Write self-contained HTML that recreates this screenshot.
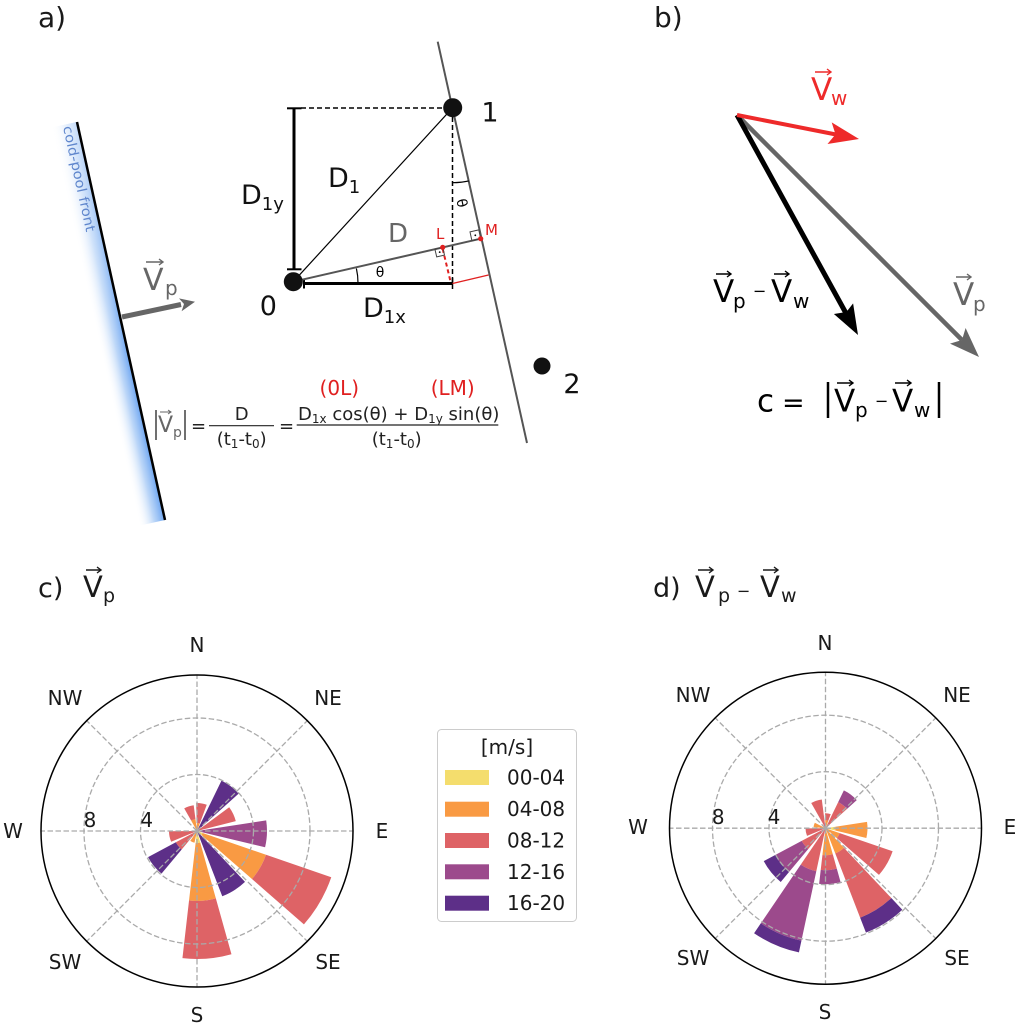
<!DOCTYPE html>
<html><head><meta charset="utf-8"><style>
html,body{margin:0;padding:0;background:#fff;}
svg{display:block;}
text{font-family:"DejaVu Sans","Liberation Sans",sans-serif;}
</style></head><body>
<svg id="fig" width="1017" height="1024" viewBox="0 0 1017 1024" xmlns="http://www.w3.org/2000/svg">
<defs>
<linearGradient id="bandPerp" gradientUnits="userSpaceOnUse" x1="77" y1="122" x2="51.6" y2="127.6">
<stop offset="0" stop-color="#6ea6f1" stop-opacity="1"/>
<stop offset="0.4" stop-color="#a9cbf6" stop-opacity="0.8"/>
<stop offset="1" stop-color="#ffffff" stop-opacity="0"/>
</linearGradient>
<linearGradient id="bandTop" gradientUnits="userSpaceOnUse" x1="0" y1="122" x2="0" y2="360">
<stop offset="0" stop-color="#ffffff" stop-opacity="0.6"/>
<stop offset="1" stop-color="#ffffff" stop-opacity="0"/>
</linearGradient>
</defs>

<!-- ===== Panel a ===== -->
<text x="38" y="27" font-size="28" fill="#1a1a1a">a)</text>
<polygon points="77,122 165,520 139.6,525.6 51.6,127.6" fill="url(#bandPerp)"/>
<polygon points="77,122 165,520 139.6,525.6 51.6,127.6" fill="url(#bandTop)"/>
<line x1="77" y1="122" x2="165" y2="520" stroke="#000" stroke-width="2.5"/>
<text transform="translate(63,127) rotate(77.53)" x="0" y="0" font-size="13.5" fill="#5f86cc" textLength="108" lengthAdjust="spacingAndGlyphs">cold-pool front</text>

<!-- Vp arrow -->
<line x1="122" y1="317" x2="181" y2="304.5" stroke="#666" stroke-width="5"/>
<polygon points="195,301.7 181.6,311.2 184,304 179,298.4" fill="#666"/>
<text x="143" y="290" font-size="30" fill="#666">V</text>
<path d="M146 262 H163 M159 259 L163 262 L159 265" stroke="#666" stroke-width="1.4" fill="none"/>
<text x="165" y="295" font-size="20" fill="#666">p</text>

<!-- right front line -->
<line x1="437.7" y1="41.7" x2="527" y2="443" stroke="#555" stroke-width="2"/>

<!-- dashed construction lines -->
<line x1="301" y1="108" x2="452" y2="108" stroke="#000" stroke-width="1.5" stroke-dasharray="5 3"/>
<line x1="452.5" y1="117" x2="452.5" y2="283" stroke="#000" stroke-width="1.5" stroke-dasharray="5 3"/>

<!-- D1y bar -->
<line x1="294" y1="108" x2="294" y2="269" stroke="#000" stroke-width="3"/>
<line x1="287" y1="108.3" x2="301.5" y2="108.3" stroke="#000" stroke-width="2"/>
<line x1="287" y1="269.3" x2="301.5" y2="269.3" stroke="#000" stroke-width="2"/>

<!-- D1x bar -->
<line x1="304" y1="283.5" x2="452.5" y2="283.5" stroke="#000" stroke-width="3"/>
<line x1="304" y1="278.5" x2="304" y2="288.5" stroke="#000" stroke-width="2"/>
<line x1="452.5" y1="278" x2="452.5" y2="289" stroke="#000" stroke-width="1.5"/>

<!-- D1 line -->
<line x1="293.3" y1="281.7" x2="452.7" y2="107.7" stroke="#000" stroke-width="1.2"/>
<!-- D line -->
<line x1="293.3" y1="281.7" x2="480.7" y2="238.7" stroke="#555" stroke-width="2"/>

<!-- red lines -->
<line x1="452.5" y1="283.5" x2="488.5" y2="275" stroke="#e02020" stroke-width="1.3"/>
<line x1="442.7" y1="249" x2="450.5" y2="281.4" stroke="#e02020" stroke-width="2" stroke-dasharray="4 3"/>

<!-- right angle marks -->
<polygon points="442.7,247.3 434.9,249.1 436.7,256.9 444.5,255.1" fill="none" stroke="#444" stroke-width="1"/>
<circle cx="439.7" cy="252.1" r="0.9" fill="#000"/>
<polygon points="480.7,238.7 471.9,240.7 470,231.9 478.8,229.9" fill="none" stroke="#444" stroke-width="1"/>
<circle cx="475.3" cy="235.3" r="0.9" fill="#000"/>

<!-- theta arcs -->
<path d="M358,283 A65,65 0 0 0 356.4,268.5" fill="none" stroke="#000" stroke-width="1.2"/>
<text x="380" y="277" font-size="14" text-anchor="middle" fill="#000">θ</text>
<path d="M452.7,182.7 A75,75 0 0 0 468.9,180.9" fill="none" stroke="#000" stroke-width="1.2"/>
<text transform="translate(462,203) rotate(77.5)" x="0" y="5" font-size="14" text-anchor="middle" fill="#000">θ</text>

<!-- red points and labels -->
<circle cx="442.7" cy="247.3" r="2.6" fill="#e02020"/>
<circle cx="480.7" cy="238.7" r="2.6" fill="#e02020"/>
<text x="436" y="239" font-size="15" fill="#e02020">L</text>
<text x="485" y="235" font-size="15" fill="#e02020">M</text>

<!-- points -->
<circle cx="293.3" cy="281.7" r="9.5" fill="#111"/>
<circle cx="452.7" cy="107.7" r="9.5" fill="#111"/>
<circle cx="542" cy="366" r="8.5" fill="#111"/>
<text x="268.3" y="315" font-size="27" text-anchor="middle" fill="#111">0</text>
<text x="490" y="121.7" font-size="27" text-anchor="middle" fill="#111">1</text>
<text x="572" y="393" font-size="27" text-anchor="middle" fill="#111">2</text>

<!-- D labels -->
<text x="241" y="204" font-size="27" fill="#111">D<tspan font-size="18" dy="6">1y</tspan></text>
<text x="328" y="187" font-size="27" fill="#111">D<tspan font-size="18" dy="6">1</tspan></text>
<text x="363" y="317" font-size="27" fill="#111">D<tspan font-size="18" dy="6">1x</tspan></text>
<text x="388" y="242" font-size="26" fill="#666">D</text>

<!-- formula -->
<line x1="156" y1="410" x2="156" y2="440" stroke="#222" stroke-width="1.3"/>
<text x="158" y="432" font-size="22" fill="#666">V</text>
<path d="M160 412 H171 M168 410 L171 412 L168 414" stroke="#666" stroke-width="1" fill="none"/>
<text x="173" y="437" font-size="14" fill="#666">p</text>
<line x1="185" y1="410" x2="185" y2="440" stroke="#222" stroke-width="1.3"/>
<text x="191" y="432" font-size="18" fill="#222">=</text>
<line x1="209" y1="425.7" x2="274" y2="425.7" stroke="#222" stroke-width="1.2"/>
<text x="241.7" y="420" font-size="18" text-anchor="middle" fill="#222">D</text>
<text x="241.7" y="445" font-size="18" text-anchor="middle" fill="#222">(t<tspan font-size="12" dy="3">1</tspan><tspan dy="-3">-t</tspan><tspan font-size="12" dy="3">0</tspan><tspan dy="-3">)</tspan></text>
<text x="279" y="432" font-size="18" fill="#222">=</text>
<line x1="296.7" y1="425" x2="498.3" y2="425" stroke="#222" stroke-width="1.2"/>
<text x="298" y="420" font-size="18" fill="#222">D<tspan font-size="12" dy="3">1x</tspan><tspan dy="-3"> cos(θ) + D</tspan><tspan font-size="12" dy="3">1y</tspan><tspan dy="-3"> sin(θ)</tspan></text>
<text x="396.7" y="445" font-size="18" text-anchor="middle" fill="#222">(t<tspan font-size="12" dy="3">1</tspan><tspan dy="-3">-t</tspan><tspan font-size="12" dy="3">0</tspan><tspan dy="-3">)</tspan></text>
<text x="339.3" y="395" font-size="20" text-anchor="middle" fill="#e02020">(0L)</text>
<text x="452.7" y="395" font-size="20" text-anchor="middle" fill="#e02020">(LM)</text>

<!-- ===== Panel b ===== -->
<text x="654" y="27" font-size="28" fill="#1a1a1a">b)</text>
<!-- gray arrow -->
<line x1="737" y1="115" x2="962" y2="340" stroke="#666" stroke-width="4.5"/>
<polygon points="979,357 950,343.6 962,340 965.6,328" fill="#666"/>
<!-- black arrow -->
<line x1="737" y1="115" x2="846.4" y2="314" stroke="#000" stroke-width="5"/>
<polygon points="858,335 833.9,314 846.4,312 853.1,303.4" fill="#000"/>
<!-- red arrow -->
<line x1="737" y1="115" x2="836" y2="134.5" stroke="#ee2a2a" stroke-width="4"/>
<polygon points="859,139 827.5,144 835.5,134.4 831.7,122.4" fill="#ee2a2a"/>

<text x="811" y="100" font-size="31" fill="#ee2a2a">V</text>
<path d="M815 72 H831 M827 69 L831 72 L827 75" stroke="#ee2a2a" stroke-width="1.4" fill="none"/>
<text x="831" y="105" font-size="20" fill="#ee2a2a">w</text>

<text x="713" y="302" font-size="31" fill="#000">V</text>
<path d="M716 274 H731 M727 271 L731 274 L727 277" stroke="#000" stroke-width="1.4" fill="none"/>
<text x="733" y="308" font-size="20" fill="#000">p</text>
<text x="753" y="296.5" font-size="16" fill="#000">−</text>
<text x="771" y="302" font-size="31" fill="#000">V</text>
<path d="M774 274 H789 M785 271 L789 274 L785 277" stroke="#000" stroke-width="1.4" fill="none"/>
<text x="793" y="308" font-size="20" fill="#000">w</text>

<text x="953" y="305" font-size="31" fill="#666">V</text>
<path d="M956 277 H971 M967 274 L971 277 L967 280" stroke="#666" stroke-width="1.4" fill="none"/>
<text x="973" y="311" font-size="20" fill="#666">p</text>

<text x="757" y="411.7" font-size="31" fill="#000">c</text>
<text x="782" y="411.7" font-size="27" fill="#000">=</text>
<line x1="828" y1="382" x2="828" y2="418" stroke="#000" stroke-width="2.5"/>
<text x="834" y="411.7" font-size="31" fill="#000">V</text>
<path d="M837 383 H853 M849 380 L853 383 L849 386" stroke="#000" stroke-width="1.4" fill="none"/>
<text x="855" y="417" font-size="20" fill="#000">p</text>
<text x="875" y="406.5" font-size="16" fill="#000">−</text>
<text x="892" y="411.7" font-size="31" fill="#000">V</text>
<path d="M895 383 H911 M907 380 L911 383 L907 386" stroke="#000" stroke-width="1.4" fill="none"/>
<text x="914" y="417" font-size="20" fill="#000">w</text>
<line x1="939" y1="382" x2="939" y2="418" stroke="#000" stroke-width="2.5"/>

<!-- ===== Panel titles c / d ===== -->
<text x="38" y="597" font-size="27" fill="#1a1a1a">c)</text>
<text x="83" y="597" font-size="29" fill="#1a1a1a">V</text>
<path d="M86 570 H101 M97 567 L101 570 L97 573" stroke="#1a1a1a" stroke-width="1.4" fill="none"/>
<text x="103" y="602" font-size="19" fill="#1a1a1a">p</text>

<text x="653" y="597" font-size="27" fill="#1a1a1a">d)</text>
<text x="695" y="597" font-size="29" fill="#1a1a1a">V</text>
<path d="M698 570 H713 M709 567 L713 570 L709 573" stroke="#1a1a1a" stroke-width="1.4" fill="none"/>
<text x="718" y="602" font-size="19" fill="#1a1a1a">p</text>
<text x="737" y="596.5" font-size="16" fill="#1a1a1a">−</text>
<text x="760" y="597" font-size="29" fill="#1a1a1a">V</text>
<path d="M763 570 H778 M774 567 L778 570 L774 573" stroke="#1a1a1a" stroke-width="1.4" fill="none"/>
<text x="781" y="602" font-size="19" fill="#1a1a1a">w</text>

<!-- ===== Roses ===== -->
<g id="barsC"></g>
<g id="gridC" fill="none" stroke="#aaaaaa" stroke-width="1.3" stroke-dasharray="5.5 2.5"></g>
<circle cx="197" cy="831" r="156" fill="none" stroke="#000" stroke-width="1.5"/>
<g id="barsD"></g>
<g id="gridD" fill="none" stroke="#aaaaaa" stroke-width="1.3" stroke-dasharray="5.5 2.5"></g>
<circle cx="825.5" cy="828.2" r="156" fill="none" stroke="#000" stroke-width="1.5"/>

<g font-size="20" fill="#1a1a1a" text-anchor="middle">
<text x="197" y="652">N</text>
<text x="328" y="705">NE</text>
<text x="65" y="705">NW</text>
<text x="13" y="838">W</text>
<text x="382" y="838">E</text>
<text x="65" y="969">SW</text>
<text x="328" y="969">SE</text>
<text x="197" y="1022">S</text>
<text x="90" y="827">8</text>
<text x="146.7" y="827">4</text>

<text x="825" y="650">N</text>
<text x="957" y="702">NE</text>
<text x="693" y="702">NW</text>
<text x="638" y="834">W</text>
<text x="1010" y="834">E</text>
<text x="693" y="965">SW</text>
<text x="957" y="965">SE</text>
<text x="825" y="1019">S</text>
<text x="718.3" y="824">8</text>
<text x="774" y="824">4</text>
</g>

<!-- legend -->
<rect x="437.5" y="729.5" width="139" height="192" rx="4" ry="4" fill="#fff" stroke="#cccccc" stroke-width="1"/>
<text x="507" y="754" font-size="20" text-anchor="middle" fill="#1a1a1a">[m/s]</text>
<rect x="445" y="770" width="44" height="15" fill="#f4dd6d"/>
<rect x="445" y="801.7" width="44" height="15" fill="#f99a43"/>
<rect x="445" y="833" width="44" height="15" fill="#de6366"/>
<rect x="445" y="864.3" width="44" height="15" fill="#9c4a8c"/>
<rect x="445" y="895.7" width="44" height="15" fill="#5d2f88"/>
<g font-size="20" fill="#1a1a1a">
<text x="507" y="784.5">00-04</text>
<text x="507" y="816">04-08</text>
<text x="507" y="847.5">08-12</text>
<text x="507" y="879">12-16</text>
<text x="507" y="910">16-20</text>
</g>
</svg>
<script>
(function(){
var NS="http://www.w3.org/2000/svg";
var Y="#f4dd6d",O="#f99a43",S="#de6366",M="#9c4a8c",P="#5d2f88";
var D2R=Math.PI/180;
function pt(cx,cy,r,b){return (cx+r*Math.sin(b*D2R)).toFixed(2)+","+(cy-r*Math.cos(b*D2R)).toFixed(2);}
function sector(cx,cy,r0,r1,b1,b2){
  var d="M"+pt(cx,cy,r1,b1)+" A"+r1+","+r1+" 0 0 1 "+pt(cx,cy,r1,b2);
  if(r0>0){d+=" L"+pt(cx,cy,r0,b2)+" A"+r0+","+r0+" 0 0 0 "+pt(cx,cy,r0,b1);}
  else{d+=" L"+cx+","+cy;}
  return d+"Z";
}
function add(g,tag,attrs){var e=document.createElementNS(NS,tag);for(var k in attrs)e.setAttribute(k,attrs[k]);g.appendChild(e);}
function rose(barsId,gridId,cx,cy,data){
  var g=document.getElementById(barsId);
  var step=360/13, w=22.15, off=9.3;
  data.forEach(function(item){
    var c=off+item[0]*step;
    item[1].forEach(function(s){
      add(g,"path",{d:sector(cx,cy,s[0],s[1],c-w/2,c+w/2),fill:s[2]});
    });
  });
  var gg=document.getElementById(gridId);
  add(gg,"circle",{cx:cx,cy:cy,r:56.5});
  add(gg,"circle",{cx:cx,cy:cy,r:113});
  for(var a=0;a<360;a+=45){
    var p=pt(cx,cy,156,a).split(",");
    add(gg,"line",{x1:cx,y1:cy,x2:p[0],y2:p[1]});
  }
}
rose("barsC","gridC",197,831,[
 [0,[[0,8,O],[8,28,S]]],
 [1,[[0,56,P]]],
 [2,[[0,40,S]]],
 [3,[[0,70,M]]],
 [4,[[0,6,Y],[6,73,O],[73,142,S]]],
 [5,[[0,70,P]]],
 [6,[[0,12,Y],[12,70,O],[70,128,S]]],
 [7,[[0,12,O]]],
 [8,[[0,24,S],[24,55.5,P]]],
 [9,[[0,28,S]]],
 [12,[[0,12,O],[12,26,S]]]
]);
rose("barsD","gridD",825.5,828.2,[
 [0,[[0,8,O],[8,15,S]]],
 [1,[[0,29,S],[29,42,M]]],
 [3,[[0,10,Y],[10,42,O]]],
 [4,[[0,15,O],[15,71,S]]],
 [5,[[0,27,O],[27,96,S],[96,112,P]]],
 [6,[[0,27,O],[27,42,S],[42,56,M]]],
 [7,[[0,44,S],[44,115,M],[115,127,P]]],
 [8,[[0,27,S],[27,57,M],[57,70,P]]],
 [9,[[0,20,S]]],
 [10,[[0,12,O]]],
 [12,[[0,29,S]]]
]);
})();
</script>
</body></html>
